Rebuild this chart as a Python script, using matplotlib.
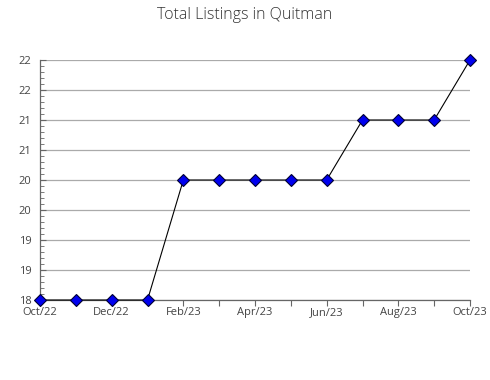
import math
import matplotlib
matplotlib.use("Agg")
import matplotlib.pyplot as plt
from matplotlib.ticker import FuncFormatter, MultipleLocator

plt.rcParams['font.family'] = ['Open Sans', 'DejaVu Sans']

months = ["Oct/22", "Nov/22", "Dec/22", "Jan/23", "Feb/23", "Mar/23", "Apr/23",
          "May/23", "Jun/23", "Jul/23", "Aug/23", "Sep/23", "Oct/23"]
listings = [18, 18, 18, 18, 20, 20, 20, 20, 20, 21, 21, 21, 22]

fig = plt.figure(figsize=(4.9, 3.8), dpi=100)
ax = fig.add_axes([40 / 490, 80 / 380, 430 / 490, 240 / 380])

x = list(range(len(months)))
ax.plot(x, listings, color="black", linewidth=0.8, marker="D", markersize=6,
        markerfacecolor="#0000ee", markeredgecolor="#000033", markeredgewidth=0.8,
        zorder=3, clip_on=False)

ax.set_xlim(0, len(months) - 1)
ax.set_ylim(18, 22)
ax.set_xticks(x)
ax.set_xticklabels([m if i % 2 == 0 else "" for i, m in enumerate(months)])
ax.yaxis.set_major_locator(MultipleLocator(0.5))
ax.yaxis.set_minor_locator(MultipleLocator(0.1))
ax.yaxis.set_major_formatter(FuncFormatter(lambda v, p: f"{int(math.floor(v + 0.5))}"))

ax.grid(axis="y", color="#aaaaaa", linewidth=0.9)
ax.set_axisbelow(True)
for s in ("top", "right"):
    ax.spines[s].set_visible(False)
for s in ("left", "bottom"):
    ax.spines[s].set_color("#666666")
    ax.spines[s].set_linewidth(0.9)

ax.tick_params(axis="x", direction="out", length=4, color="#666666",
               labelsize=8, labelcolor="#444444", pad=1)
ax.tick_params(axis="y", which="major", direction="in", length=4, color="#666666",
               labelsize=8, labelcolor="#444444", pad=6)
ax.tick_params(axis="y", which="minor", direction="in", length=3, color="#666666")

fig.suptitle("Total Listings in Quitman", x=245 / 490, y=1 - 15 / 380, va="center",
             fontsize=11.5, color="#333333", fontweight="light")

fig.savefig("out.png", dpi=100)
